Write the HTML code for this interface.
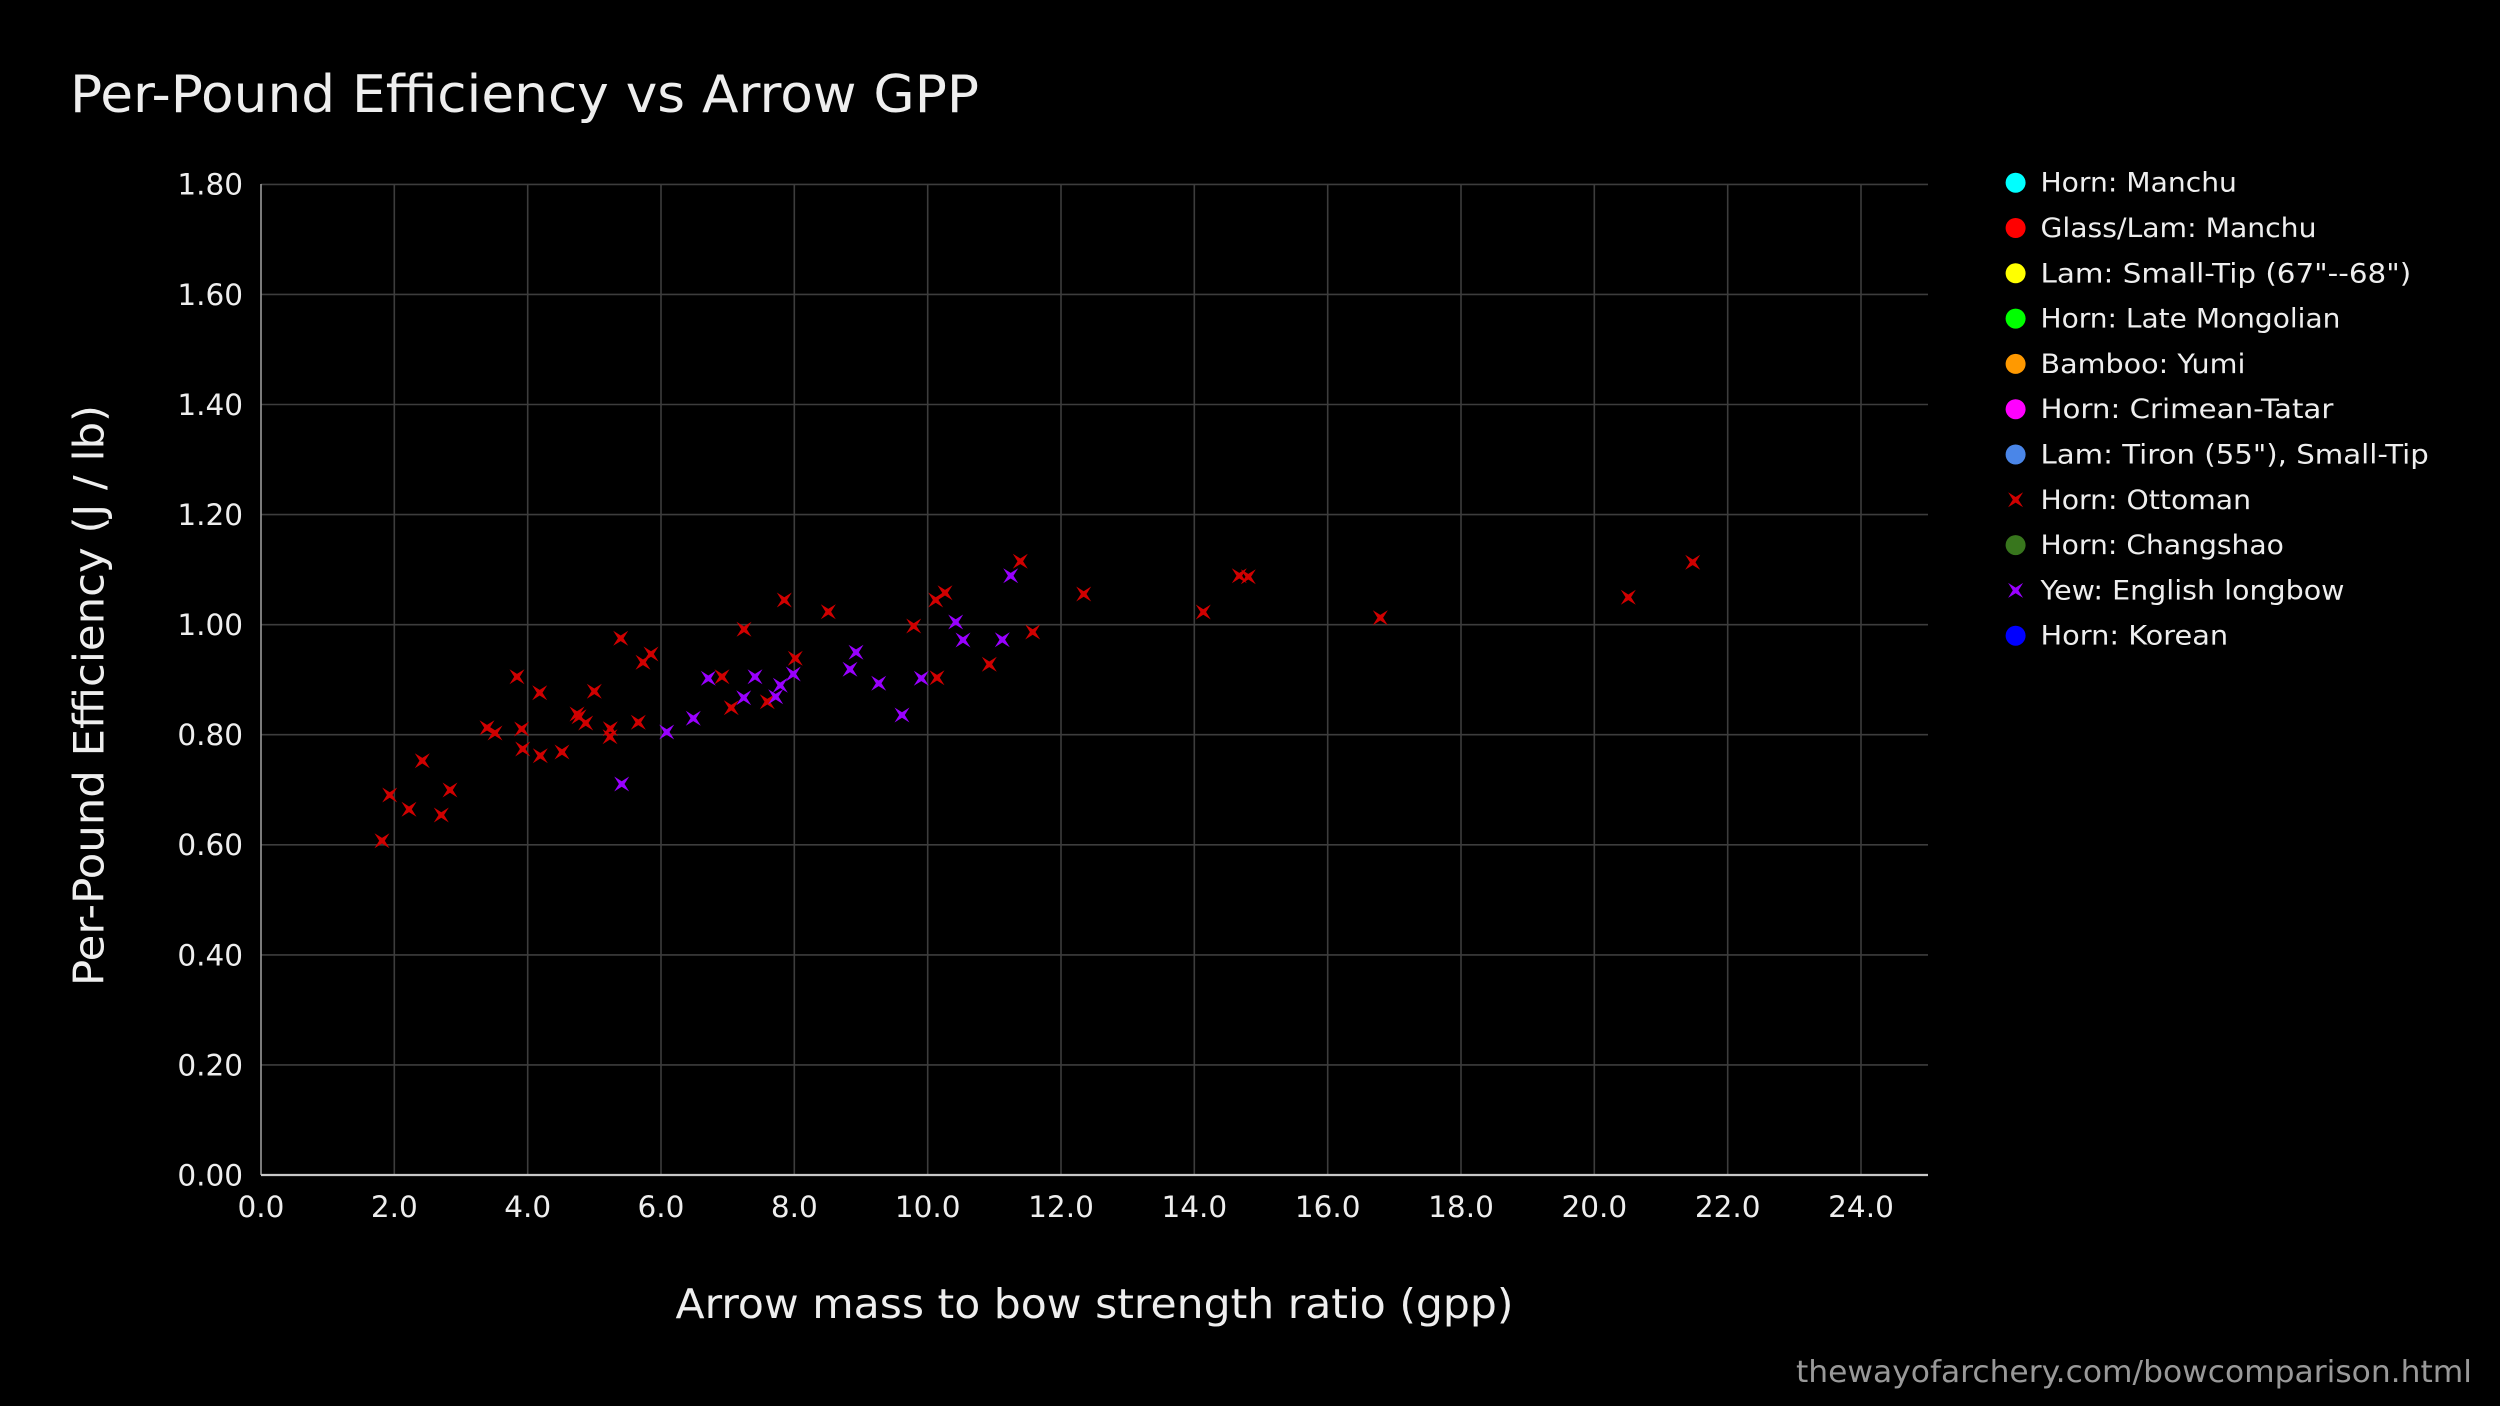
<!DOCTYPE html>
<html>
<head>
<meta charset="utf-8">
<style>
  html, body { margin: 0; padding: 0; background: #000; }
  svg { display: block; }
  text { font-family: "DejaVu Sans", "Liberation Sans", sans-serif; }
</style>
</head>
<body>
<svg xmlns="http://www.w3.org/2000/svg" width="2500" height="1406" viewBox="0 0 2500 1406">
  <rect x="0" y="0" width="2500" height="1406" fill="#000"/>

  <!-- Title -->
  <text x="70" y="112" font-size="52" fill="#eeeeee" textLength="909" lengthAdjust="spacingAndGlyphs">Per-Pound Efficiency vs Arrow GPP</text>

  <!-- Gridlines horizontal -->
  <g stroke="#3d3d3d" stroke-width="1.6">
    <line x1="261" y1="1064.9" x2="1928" y2="1064.9"/>
    <line x1="261" y1="954.9" x2="1928" y2="954.9"/>
    <line x1="261" y1="844.8" x2="1928" y2="844.8"/>
    <line x1="261" y1="734.7" x2="1928" y2="734.7"/>
    <line x1="261" y1="624.7" x2="1928" y2="624.7"/>
    <line x1="261" y1="514.6" x2="1928" y2="514.6"/>
    <line x1="261" y1="404.5" x2="1928" y2="404.5"/>
    <line x1="261" y1="294.4" x2="1928" y2="294.4"/>
    <line x1="261" y1="184.4" x2="1928" y2="184.4"/>
  </g>
  <!-- Gridlines vertical -->
  <g stroke="#3d3d3d" stroke-width="1.6">
    <line x1="394.3" y1="184" x2="394.3" y2="1175"/>
    <line x1="527.7" y1="184" x2="527.7" y2="1175"/>
    <line x1="661" y1="184" x2="661" y2="1175"/>
    <line x1="794.3" y1="184" x2="794.3" y2="1175"/>
    <line x1="927.7" y1="184" x2="927.7" y2="1175"/>
    <line x1="1061" y1="184" x2="1061" y2="1175"/>
    <line x1="1194.3" y1="184" x2="1194.3" y2="1175"/>
    <line x1="1327.7" y1="184" x2="1327.7" y2="1175"/>
    <line x1="1461" y1="184" x2="1461" y2="1175"/>
    <line x1="1594.3" y1="184" x2="1594.3" y2="1175"/>
    <line x1="1727.7" y1="184" x2="1727.7" y2="1175"/>
    <line x1="1861" y1="184" x2="1861" y2="1175"/>
  </g>
  <!-- Axes -->
  <line x1="261" y1="184" x2="261" y2="1175" stroke="#9a9a9a" stroke-width="1.6"/>
  <line x1="261" y1="1175" x2="1928" y2="1175" stroke="#c8c8c8" stroke-width="2.2"/>

  <!-- Y tick labels -->
  <g font-size="29.5" fill="#eeeeee" text-anchor="end">
    <text x="243" y="194.7">1.80</text>
    <text x="243" y="304.8">1.60</text>
    <text x="243" y="414.9">1.40</text>
    <text x="243" y="525">1.20</text>
    <text x="243" y="635.1">1.00</text>
    <text x="243" y="745.1">0.80</text>
    <text x="243" y="855.2">0.60</text>
    <text x="243" y="965.3">0.40</text>
    <text x="243" y="1075.3">0.20</text>
    <text x="243" y="1185.4">0.00</text>
  </g>

  <!-- X tick labels -->
  <g font-size="29.5" fill="#eeeeee" text-anchor="middle">
    <text x="261" y="1217">0.0</text>
    <text x="394.3" y="1217">2.0</text>
    <text x="527.7" y="1217">4.0</text>
    <text x="661" y="1217">6.0</text>
    <text x="794.3" y="1217">8.0</text>
    <text x="927.7" y="1217">10.0</text>
    <text x="1061" y="1217">12.0</text>
    <text x="1194.3" y="1217">14.0</text>
    <text x="1327.7" y="1217">16.0</text>
    <text x="1461" y="1217">18.0</text>
    <text x="1594.3" y="1217">20.0</text>
    <text x="1727.7" y="1217">22.0</text>
    <text x="1861" y="1217">24.0</text>
  </g>

  <!-- Axis titles -->
  <text x="1094.5" y="1318" font-size="41" fill="#eeeeee" text-anchor="middle" textLength="838" lengthAdjust="spacingAndGlyphs">Arrow mass to bow strength ratio (gpp)</text>
  <text transform="translate(103.5,695.5) rotate(-90)" font-size="42" fill="#eeeeee" text-anchor="middle" textLength="581" lengthAdjust="spacingAndGlyphs">Per-Pound Efficiency (J / lb)</text>

  <!-- Ottoman (red X) -->
  <g fill="#d00000">
    <path transform="translate(382,840.7)" d="M-7.5,-7.5 L0,-2.8 L7.5,-7.5 L2.8,0 L7.5,7.5 L0,2.8 L-7.5,7.5 L-2.8,0 Z"/>
    <path transform="translate(389.7,795)" d="M-7.5,-7.5 L0,-2.8 L7.5,-7.5 L2.8,0 L7.5,7.5 L0,2.8 L-7.5,7.5 L-2.8,0 Z"/>
    <path transform="translate(409,809.3)" d="M-7.5,-7.5 L0,-2.8 L7.5,-7.5 L2.8,0 L7.5,7.5 L0,2.8 L-7.5,7.5 L-2.8,0 Z"/>
    <path transform="translate(422.3,760.7)" d="M-7.5,-7.5 L0,-2.8 L7.5,-7.5 L2.8,0 L7.5,7.5 L0,2.8 L-7.5,7.5 L-2.8,0 Z"/>
    <path transform="translate(441.3,815)" d="M-7.5,-7.5 L0,-2.8 L7.5,-7.5 L2.8,0 L7.5,7.5 L0,2.8 L-7.5,7.5 L-2.8,0 Z"/>
    <path transform="translate(450,790)" d="M-7.5,-7.5 L0,-2.8 L7.5,-7.5 L2.8,0 L7.5,7.5 L0,2.8 L-7.5,7.5 L-2.8,0 Z"/>
    <path transform="translate(487,727.7)" d="M-7.5,-7.5 L0,-2.8 L7.5,-7.5 L2.8,0 L7.5,7.5 L0,2.8 L-7.5,7.5 L-2.8,0 Z"/>
    <path transform="translate(495,733)" d="M-7.5,-7.5 L0,-2.8 L7.5,-7.5 L2.8,0 L7.5,7.5 L0,2.8 L-7.5,7.5 L-2.8,0 Z"/>
    <path transform="translate(517,676.7)" d="M-7.5,-7.5 L0,-2.8 L7.5,-7.5 L2.8,0 L7.5,7.5 L0,2.8 L-7.5,7.5 L-2.8,0 Z"/>
    <path transform="translate(521.7,729)" d="M-7.5,-7.5 L0,-2.8 L7.5,-7.5 L2.8,0 L7.5,7.5 L0,2.8 L-7.5,7.5 L-2.8,0 Z"/>
    <path transform="translate(522.7,749)" d="M-7.5,-7.5 L0,-2.8 L7.5,-7.5 L2.8,0 L7.5,7.5 L0,2.8 L-7.5,7.5 L-2.8,0 Z"/>
    <path transform="translate(539.7,692.7)" d="M-7.5,-7.5 L0,-2.8 L7.5,-7.5 L2.8,0 L7.5,7.5 L0,2.8 L-7.5,7.5 L-2.8,0 Z"/>
    <path transform="translate(540.3,755.7)" d="M-7.5,-7.5 L0,-2.8 L7.5,-7.5 L2.8,0 L7.5,7.5 L0,2.8 L-7.5,7.5 L-2.8,0 Z"/>
    <path transform="translate(562,752)" d="M-7.5,-7.5 L0,-2.8 L7.5,-7.5 L2.8,0 L7.5,7.5 L0,2.8 L-7.5,7.5 L-2.8,0 Z"/>
    <path transform="translate(577,714)" d="M-7.5,-7.5 L0,-2.8 L7.5,-7.5 L2.8,0 L7.5,7.5 L0,2.8 L-7.5,7.5 L-2.8,0 Z"/>
    <path transform="translate(579,716.7)" d="M-7.5,-7.5 L0,-2.8 L7.5,-7.5 L2.8,0 L7.5,7.5 L0,2.8 L-7.5,7.5 L-2.8,0 Z"/>
    <path transform="translate(585.7,723)" d="M-7.5,-7.5 L0,-2.8 L7.5,-7.5 L2.8,0 L7.5,7.5 L0,2.8 L-7.5,7.5 L-2.8,0 Z"/>
    <path transform="translate(594.3,691.3)" d="M-7.5,-7.5 L0,-2.8 L7.5,-7.5 L2.8,0 L7.5,7.5 L0,2.8 L-7.5,7.5 L-2.8,0 Z"/>
    <path transform="translate(610.3,728.7)" d="M-7.5,-7.5 L0,-2.8 L7.5,-7.5 L2.8,0 L7.5,7.5 L0,2.8 L-7.5,7.5 L-2.8,0 Z"/>
    <path transform="translate(610,736.7)" d="M-7.5,-7.5 L0,-2.8 L7.5,-7.5 L2.8,0 L7.5,7.5 L0,2.8 L-7.5,7.5 L-2.8,0 Z"/>
    <path transform="translate(620.7,638.3)" d="M-7.5,-7.5 L0,-2.8 L7.5,-7.5 L2.8,0 L7.5,7.5 L0,2.8 L-7.5,7.5 L-2.8,0 Z"/>
    <path transform="translate(638.3,722.3)" d="M-7.5,-7.5 L0,-2.8 L7.5,-7.5 L2.8,0 L7.5,7.5 L0,2.8 L-7.5,7.5 L-2.8,0 Z"/>
    <path transform="translate(643,662.3)" d="M-7.5,-7.5 L0,-2.8 L7.5,-7.5 L2.8,0 L7.5,7.5 L0,2.8 L-7.5,7.5 L-2.8,0 Z"/>
    <path transform="translate(651,654)" d="M-7.5,-7.5 L0,-2.8 L7.5,-7.5 L2.8,0 L7.5,7.5 L0,2.8 L-7.5,7.5 L-2.8,0 Z"/>
    <path transform="translate(722,676.7)" d="M-7.5,-7.5 L0,-2.8 L7.5,-7.5 L2.8,0 L7.5,7.5 L0,2.8 L-7.5,7.5 L-2.8,0 Z"/>
    <path transform="translate(731.3,707.7)" d="M-7.5,-7.5 L0,-2.8 L7.5,-7.5 L2.8,0 L7.5,7.5 L0,2.8 L-7.5,7.5 L-2.8,0 Z"/>
    <path transform="translate(744,629.3)" d="M-7.5,-7.5 L0,-2.8 L7.5,-7.5 L2.8,0 L7.5,7.5 L0,2.8 L-7.5,7.5 L-2.8,0 Z"/>
    <path transform="translate(767.3,701.7)" d="M-7.5,-7.5 L0,-2.8 L7.5,-7.5 L2.8,0 L7.5,7.5 L0,2.8 L-7.5,7.5 L-2.8,0 Z"/>
    <path transform="translate(784.3,600)" d="M-7.5,-7.5 L0,-2.8 L7.5,-7.5 L2.8,0 L7.5,7.5 L0,2.8 L-7.5,7.5 L-2.8,0 Z"/>
    <path transform="translate(795.3,658.3)" d="M-7.5,-7.5 L0,-2.8 L7.5,-7.5 L2.8,0 L7.5,7.5 L0,2.8 L-7.5,7.5 L-2.8,0 Z"/>
    <path transform="translate(828.3,611.7)" d="M-7.5,-7.5 L0,-2.8 L7.5,-7.5 L2.8,0 L7.5,7.5 L0,2.8 L-7.5,7.5 L-2.8,0 Z"/>
    <path transform="translate(913.7,626)" d="M-7.5,-7.5 L0,-2.8 L7.5,-7.5 L2.8,0 L7.5,7.5 L0,2.8 L-7.5,7.5 L-2.8,0 Z"/>
    <path transform="translate(935.7,600)" d="M-7.5,-7.5 L0,-2.8 L7.5,-7.5 L2.8,0 L7.5,7.5 L0,2.8 L-7.5,7.5 L-2.8,0 Z"/>
    <path transform="translate(945,592.7)" d="M-7.5,-7.5 L0,-2.8 L7.5,-7.5 L2.8,0 L7.5,7.5 L0,2.8 L-7.5,7.5 L-2.8,0 Z"/>
    <path transform="translate(937,677.7)" d="M-7.5,-7.5 L0,-2.8 L7.5,-7.5 L2.8,0 L7.5,7.5 L0,2.8 L-7.5,7.5 L-2.8,0 Z"/>
    <path transform="translate(989.3,664.3)" d="M-7.5,-7.5 L0,-2.8 L7.5,-7.5 L2.8,0 L7.5,7.5 L0,2.8 L-7.5,7.5 L-2.8,0 Z"/>
    <path transform="translate(1020.3,561.3)" d="M-7.5,-7.5 L0,-2.8 L7.5,-7.5 L2.8,0 L7.5,7.5 L0,2.8 L-7.5,7.5 L-2.8,0 Z"/>
    <path transform="translate(1032.7,632)" d="M-7.5,-7.5 L0,-2.8 L7.5,-7.5 L2.8,0 L7.5,7.5 L0,2.8 L-7.5,7.5 L-2.8,0 Z"/>
    <path transform="translate(1083.7,594)" d="M-7.5,-7.5 L0,-2.8 L7.5,-7.5 L2.8,0 L7.5,7.5 L0,2.8 L-7.5,7.5 L-2.8,0 Z"/>
    <path transform="translate(1203.3,612)" d="M-7.5,-7.5 L0,-2.8 L7.5,-7.5 L2.8,0 L7.5,7.5 L0,2.8 L-7.5,7.5 L-2.8,0 Z"/>
    <path transform="translate(1239.3,575.7)" d="M-7.5,-7.5 L0,-2.8 L7.5,-7.5 L2.8,0 L7.5,7.5 L0,2.8 L-7.5,7.5 L-2.8,0 Z"/>
    <path transform="translate(1248.3,576.7)" d="M-7.5,-7.5 L0,-2.8 L7.5,-7.5 L2.8,0 L7.5,7.5 L0,2.8 L-7.5,7.5 L-2.8,0 Z"/>
    <path transform="translate(1380.3,617.7)" d="M-7.5,-7.5 L0,-2.8 L7.5,-7.5 L2.8,0 L7.5,7.5 L0,2.8 L-7.5,7.5 L-2.8,0 Z"/>
    <path transform="translate(1628.3,597.3)" d="M-7.5,-7.5 L0,-2.8 L7.5,-7.5 L2.8,0 L7.5,7.5 L0,2.8 L-7.5,7.5 L-2.8,0 Z"/>
    <path transform="translate(1692.7,562.3)" d="M-7.5,-7.5 L0,-2.8 L7.5,-7.5 L2.8,0 L7.5,7.5 L0,2.8 L-7.5,7.5 L-2.8,0 Z"/>
  </g>

  <!-- Yew (purple X) -->
  <g fill="#9900ff">
    <path transform="translate(621.7,784)" d="M-7.5,-7.5 L0,-2.8 L7.5,-7.5 L2.8,0 L7.5,7.5 L0,2.8 L-7.5,7.5 L-2.8,0 Z"/>
    <path transform="translate(666.7,732)" d="M-7.5,-7.5 L0,-2.8 L7.5,-7.5 L2.8,0 L7.5,7.5 L0,2.8 L-7.5,7.5 L-2.8,0 Z"/>
    <path transform="translate(693.3,718.3)" d="M-7.5,-7.5 L0,-2.8 L7.5,-7.5 L2.8,0 L7.5,7.5 L0,2.8 L-7.5,7.5 L-2.8,0 Z"/>
    <path transform="translate(708.3,678.3)" d="M-7.5,-7.5 L0,-2.8 L7.5,-7.5 L2.8,0 L7.5,7.5 L0,2.8 L-7.5,7.5 L-2.8,0 Z"/>
    <path transform="translate(743.7,697.7)" d="M-7.5,-7.5 L0,-2.8 L7.5,-7.5 L2.8,0 L7.5,7.5 L0,2.8 L-7.5,7.5 L-2.8,0 Z"/>
    <path transform="translate(755,676.7)" d="M-7.5,-7.5 L0,-2.8 L7.5,-7.5 L2.8,0 L7.5,7.5 L0,2.8 L-7.5,7.5 L-2.8,0 Z"/>
    <path transform="translate(775.7,696.7)" d="M-7.5,-7.5 L0,-2.8 L7.5,-7.5 L2.8,0 L7.5,7.5 L0,2.8 L-7.5,7.5 L-2.8,0 Z"/>
    <path transform="translate(780.3,685.3)" d="M-7.5,-7.5 L0,-2.8 L7.5,-7.5 L2.8,0 L7.5,7.5 L0,2.8 L-7.5,7.5 L-2.8,0 Z"/>
    <path transform="translate(793.3,674)" d="M-7.5,-7.5 L0,-2.8 L7.5,-7.5 L2.8,0 L7.5,7.5 L0,2.8 L-7.5,7.5 L-2.8,0 Z"/>
    <path transform="translate(850,669.3)" d="M-7.5,-7.5 L0,-2.8 L7.5,-7.5 L2.8,0 L7.5,7.5 L0,2.8 L-7.5,7.5 L-2.8,0 Z"/>
    <path transform="translate(856,652.2)" d="M-7.5,-7.5 L0,-2.8 L7.5,-7.5 L2.8,0 L7.5,7.5 L0,2.8 L-7.5,7.5 L-2.8,0 Z"/>
    <path transform="translate(878.7,683.3)" d="M-7.5,-7.5 L0,-2.8 L7.5,-7.5 L2.8,0 L7.5,7.5 L0,2.8 L-7.5,7.5 L-2.8,0 Z"/>
    <path transform="translate(902,715)" d="M-7.5,-7.5 L0,-2.8 L7.5,-7.5 L2.8,0 L7.5,7.5 L0,2.8 L-7.5,7.5 L-2.8,0 Z"/>
    <path transform="translate(921.3,678.3)" d="M-7.5,-7.5 L0,-2.8 L7.5,-7.5 L2.8,0 L7.5,7.5 L0,2.8 L-7.5,7.5 L-2.8,0 Z"/>
    <path transform="translate(955.7,622)" d="M-7.5,-7.5 L0,-2.8 L7.5,-7.5 L2.8,0 L7.5,7.5 L0,2.8 L-7.5,7.5 L-2.8,0 Z"/>
    <path transform="translate(963,640)" d="M-7.5,-7.5 L0,-2.8 L7.5,-7.5 L2.8,0 L7.5,7.5 L0,2.8 L-7.5,7.5 L-2.8,0 Z"/>
    <path transform="translate(1002.3,639.7)" d="M-7.5,-7.5 L0,-2.8 L7.5,-7.5 L2.8,0 L7.5,7.5 L0,2.8 L-7.5,7.5 L-2.8,0 Z"/>
    <path transform="translate(1010.7,575.7)" d="M-7.5,-7.5 L0,-2.8 L7.5,-7.5 L2.8,0 L7.5,7.5 L0,2.8 L-7.5,7.5 L-2.8,0 Z"/>
  </g>

  <!-- Legend -->
  <g>
    <circle cx="2015.6" cy="182.7" r="10" fill="#00ffff"/>
    <circle cx="2015.6" cy="228" r="10" fill="#ff0000"/>
    <circle cx="2015.6" cy="273.3" r="10" fill="#ffff00"/>
    <circle cx="2015.6" cy="318.6" r="10" fill="#00ff00"/>
    <circle cx="2015.6" cy="363.9" r="10" fill="#ff9900"/>
    <circle cx="2015.6" cy="409.2" r="10" fill="#ff00ff"/>
    <circle cx="2015.6" cy="454.5" r="10" fill="#4a86e8"/>
    <path transform="translate(2015.6,499.8)" fill="#d00000" d="M-7.5,-7.5 L0,-2.8 L7.5,-7.5 L2.8,0 L7.5,7.5 L0,2.8 L-7.5,7.5 L-2.8,0 Z"/>
    <circle cx="2015.6" cy="545.1" r="10" fill="#38761d"/>
    <path transform="translate(2015.6,590.4)" fill="#9900ff" d="M-7.5,-7.5 L0,-2.8 L7.5,-7.5 L2.8,0 L7.5,7.5 L0,2.8 L-7.5,7.5 L-2.8,0 Z"/>
    <circle cx="2015.6" cy="635.7" r="10" fill="#0000ff"/>
  </g>
  <g font-size="27" fill="#eeeeee">
    <text x="2040.5" y="191.7" textLength="196.4" lengthAdjust="spacingAndGlyphs">Horn: Manchu</text>
    <text x="2040.5" y="237" textLength="276" lengthAdjust="spacingAndGlyphs">Glass/Lam: Manchu</text>
    <text x="2040.5" y="282.3" textLength="370.7" lengthAdjust="spacingAndGlyphs">Lam: Small-Tip (67"--68")</text>
    <text x="2040.5" y="327.6" textLength="299.9" lengthAdjust="spacingAndGlyphs">Horn: Late Mongolian</text>
    <text x="2040.5" y="372.9" textLength="205" lengthAdjust="spacingAndGlyphs">Bamboo: Yumi</text>
    <text x="2040.5" y="418.2" textLength="292.9" lengthAdjust="spacingAndGlyphs">Horn: Crimean-Tatar</text>
    <text x="2040.5" y="463.5" textLength="388.3" lengthAdjust="spacingAndGlyphs">Lam: Tiron (55"), Small-Tip</text>
    <text x="2040.5" y="508.8" textLength="210.5" lengthAdjust="spacingAndGlyphs">Horn: Ottoman</text>
    <text x="2040.5" y="554.1" textLength="243.4" lengthAdjust="spacingAndGlyphs">Horn: Changshao</text>
    <text x="2040.5" y="599.4" textLength="304" lengthAdjust="spacingAndGlyphs">Yew: English longbow</text>
    <text x="2040.5" y="644.7" textLength="187.6" lengthAdjust="spacingAndGlyphs">Horn: Korean</text>
  </g>

  <!-- Footer -->
  <text x="1796" y="1382" font-size="30" fill="#999999" textLength="676" lengthAdjust="spacingAndGlyphs">thewayofarchery.com/bowcomparison.html</text>
</svg>
</body>
</html>
